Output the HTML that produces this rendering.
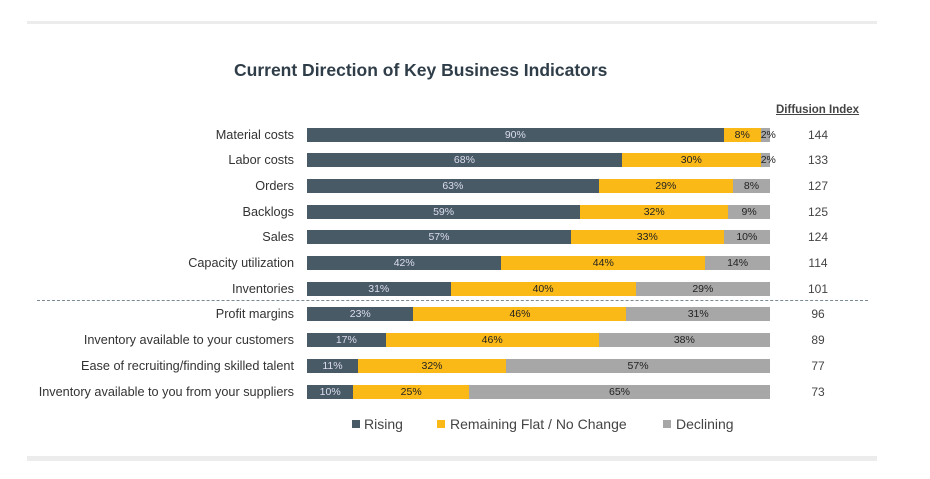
<!DOCTYPE html><html><head><style>
body{margin:0;width:930px;height:479px;background:#fff;position:relative;font-family:"Liberation Sans",sans-serif;overflow:hidden}
.a{position:absolute}
.l{position:absolute;right:636px;font-size:12.7px;color:#333;text-align:right;white-space:nowrap}
.bar{position:absolute;left:307px;height:14px;width:463px;display:flex}
.bar div{height:14px;font-size:10.5px;line-height:14px;text-align:center;color:#222;overflow:visible;white-space:nowrap}
.r{background:#475a66;color:#dde!important}
.y{background:#fbb917}
.g{background:#a7a7a7}
.d{position:absolute;left:800px;width:36px;text-align:center;font-size:12px;color:#444}
</style></head><body>
<div class="a" style="left:27px;top:21px;width:850px;height:3px;background:#ececec"></div>
<div class="a" style="left:27px;top:456px;width:850px;height:5px;background:#ececec"></div>
<div class="a" style="left:234px;top:60px;font-size:17.5px;font-weight:bold;color:#2f3d48">Current Direction of Key Business Indicators</div>
<div class="a" style="left:776px;top:104px;font-size:11.5px;font-weight:bold;color:#444;text-decoration:underline">Diffusion Index</div>
<div class="a" style="left:37px;top:300px;width:831px;border-top:1.5px dashed #7a8a94"></div>
<div class="l" style="top:128px">Material costs</div>
<div class="bar" style="top:128px"><div class="r" style="width:90%">90%</div><div class="y" style="width:8%">8%</div><div class="g" style="width:2%">2%</div></div>
<div class="d" style="top:128px">144</div>
<div class="l" style="top:153px">Labor costs</div>
<div class="bar" style="top:153px"><div class="r" style="width:68%">68%</div><div class="y" style="width:30%">30%</div><div class="g" style="width:2%">2%</div></div>
<div class="d" style="top:153px">133</div>
<div class="l" style="top:179px">Orders</div>
<div class="bar" style="top:179px"><div class="r" style="width:63%">63%</div><div class="y" style="width:29%">29%</div><div class="g" style="width:8%">8%</div></div>
<div class="d" style="top:179px">127</div>
<div class="l" style="top:205px">Backlogs</div>
<div class="bar" style="top:205px"><div class="r" style="width:59%">59%</div><div class="y" style="width:32%">32%</div><div class="g" style="width:9%">9%</div></div>
<div class="d" style="top:205px">125</div>
<div class="l" style="top:230px">Sales</div>
<div class="bar" style="top:230px"><div class="r" style="width:57%">57%</div><div class="y" style="width:33%">33%</div><div class="g" style="width:10%">10%</div></div>
<div class="d" style="top:230px">124</div>
<div class="l" style="top:256px">Capacity utilization</div>
<div class="bar" style="top:256px"><div class="r" style="width:42%">42%</div><div class="y" style="width:44%">44%</div><div class="g" style="width:14%">14%</div></div>
<div class="d" style="top:256px">114</div>
<div class="l" style="top:282px">Inventories</div>
<div class="bar" style="top:282px"><div class="r" style="width:31%">31%</div><div class="y" style="width:40%">40%</div><div class="g" style="width:29%">29%</div></div>
<div class="d" style="top:282px">101</div>
<div class="l" style="top:307px">Profit margins</div>
<div class="bar" style="top:307px"><div class="r" style="width:23%">23%</div><div class="y" style="width:46%">46%</div><div class="g" style="width:31%">31%</div></div>
<div class="d" style="top:307px">96</div>
<div class="l" style="top:333px">Inventory available to your customers</div>
<div class="bar" style="top:333px"><div class="r" style="width:17%">17%</div><div class="y" style="width:46%">46%</div><div class="g" style="width:37%">38%</div></div>
<div class="d" style="top:333px">89</div>
<div class="l" style="top:359px">Ease of recruiting/finding skilled talent</div>
<div class="bar" style="top:359px"><div class="r" style="width:11%">11%</div><div class="y" style="width:32%">32%</div><div class="g" style="width:57%">57%</div></div>
<div class="d" style="top:359px">77</div>
<div class="l" style="top:385px">Inventory available to you from your suppliers</div>
<div class="bar" style="top:385px"><div class="r" style="width:10%">10%</div><div class="y" style="width:25%">25%</div><div class="g" style="width:65%">65%</div></div>
<div class="d" style="top:385px">73</div>
<div class="a" style="left:352px;top:420px;width:8px;height:8px;background:#475a66"></div>
<div class="a" style="left:364px;top:416px;font-size:14px;color:#444">Rising</div>
<div class="a" style="left:437px;top:420px;width:8px;height:8px;background:#fbb917"></div>
<div class="a" style="left:450px;top:416px;font-size:14px;color:#444">Remaining Flat / No Change</div>
<div class="a" style="left:663px;top:420px;width:8px;height:8px;background:#a7a7a7"></div>
<div class="a" style="left:676px;top:416px;font-size:14px;color:#444">Declining</div>
</body></html>
